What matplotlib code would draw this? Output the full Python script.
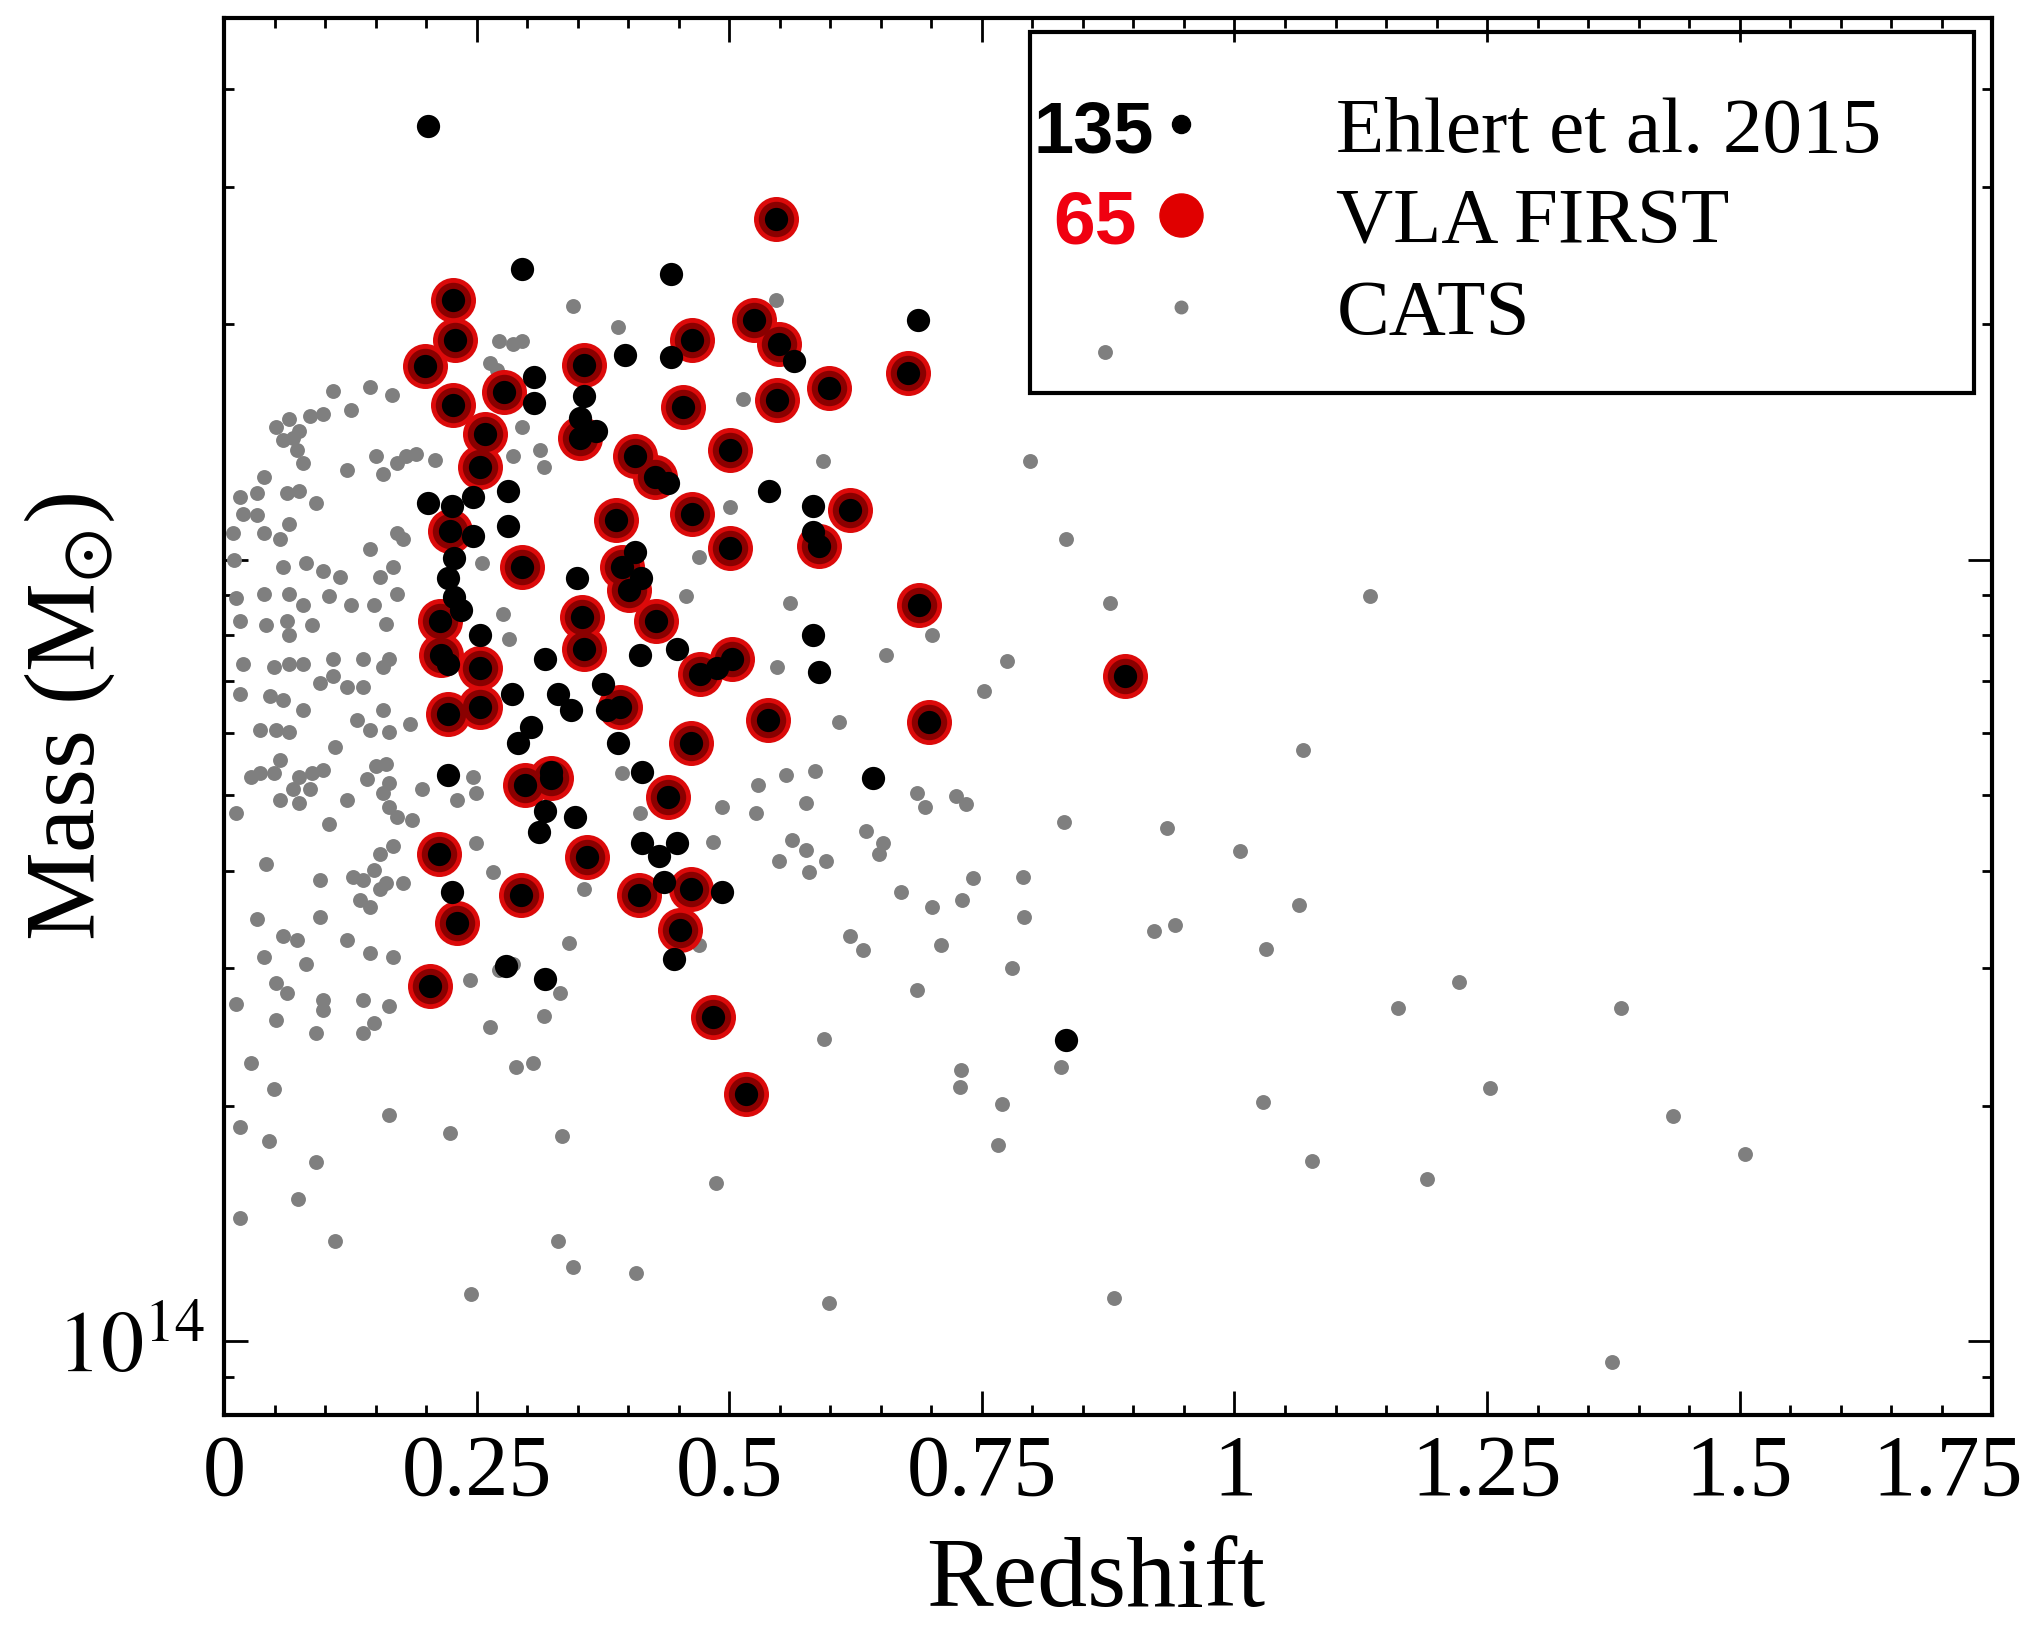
import numpy as np
import matplotlib
matplotlib.use("Agg")
import matplotlib.pyplot as plt
from matplotlib.lines import Line2D
from matplotlib.patches import Rectangle
from matplotlib import ticker, transforms

plt.rcParams['font.family'] = ['Liberation Serif', 'DejaVu Serif']
plt.rcParams['mathtext.fontset'] = 'stix'

# ---- data: redshift and log10(mass / Msun) ----

# VLA FIRST detections (red)
first_z = [0.546, 0.226, 0.228, 0.199, 0.524, 0.549, 0.463, 0.356, 0.277, 0.226,
           0.454, 0.547, 0.599, 0.677, 0.258, 0.352, 0.253, 0.501, 0.407, 0.426,
           0.223, 0.388, 0.463, 0.619, 0.589, 0.501, 0.295, 0.394, 0.401, 0.213,
           0.354, 0.427, 0.688, 0.214, 0.253, 0.356, 0.471, 0.503, 0.392, 0.221,
           0.253, 0.538, 0.698, 0.892, 0.298, 0.323, 0.462, 0.439, 0.212, 0.359,
           0.294, 0.410, 0.462, 0.451, 0.230, 0.204, 0.484, 0.516]
first_logm = [15.435, 15.332, 15.281, 15.248, 15.306, 15.276, 15.281, 15.249, 15.214, 15.198,
              15.195, 15.204, 15.219, 15.239, 15.161, 15.156, 15.118, 15.140, 15.132, 15.105,
              15.037, 15.050, 15.058, 15.063, 15.017, 15.015, 14.991, 14.991, 14.961, 14.922,
              14.927, 14.922, 14.942, 14.878, 14.861, 14.886, 14.853, 14.873, 14.811, 14.803,
              14.811, 14.795, 14.792, 14.851, 14.712, 14.720, 14.765, 14.696, 14.624, 14.619,
              14.571, 14.571, 14.578, 14.526, 14.535, 14.455, 14.415, 14.317]

# Ehlert et al. 2015 clusters without a FIRST source (black)
ehlert_z = [0.202, 0.295, 0.442, 0.687, 0.397, 0.442, 0.564, 0.307, 0.307, 0.352,
            0.368, 0.539, 0.281, 0.246, 0.202, 0.225, 0.281, 0.227, 0.439, 0.583,
            0.583, 0.221, 0.227, 0.349, 0.407, 0.234, 0.253, 0.317, 0.583, 0.589,
            0.411, 0.448, 0.488, 0.285, 0.330, 0.343, 0.304, 0.291, 0.379, 0.390,
            0.413, 0.642, 0.221, 0.323, 0.317, 0.311, 0.413, 0.448, 0.430, 0.225,
            0.493, 0.445, 0.279, 0.317, 0.833, 0.221, 0.435, 0.356, 0.347, 0.246,
            0.375, 0.412]
ehlert_logm = [15.554, 15.372, 15.365, 15.307, 15.262, 15.259, 15.254, 15.233, 15.200, 15.181,
               15.165, 15.088, 15.088, 15.080, 15.072, 15.068, 15.043, 15.002, 15.098, 15.068,
               15.035, 14.977, 14.952, 14.977, 15.010, 14.936, 14.903, 14.873, 14.903, 14.856,
               14.878, 14.886, 14.861, 14.828, 14.828, 14.808, 14.786, 14.766, 14.808, 14.766,
               14.728, 14.720, 14.725, 14.728, 14.679, 14.651, 14.638, 14.638, 14.621, 14.575,
               14.575, 14.489, 14.480, 14.464, 14.386, 14.866, 14.588, 15.209, 14.671, 15.030,
               14.841, 14.976]

# CATS clusters (grey)
cats_z = [
    # upper-left cluster
    0.345, 0.390, 0.286, 0.272, 0.295, 0.263, 0.270, 0.166, 0.144, 0.108,
    0.125, 0.098, 0.085, 0.064, 0.051, 0.074, 0.068, 0.058, 0.072, 0.078,
    0.121, 0.150, 0.157, 0.180, 0.171, 0.190, 0.209, 0.295, 0.286, 0.312,
    0.316, 0.039, 0.032, 0.015, 0.018, 0.032, 0.062, 0.074, 0.091, 0.064,
    0.009, 0.055, 0.039, 0.171, 0.177, 0.144, 0.010, 0.058, 0.081, 0.098,
    0.114, 0.154, 0.167, 0.039, 0.012, 0.064, 0.078, 0.104, 0.125, 0.148,
    0.171, 0.015, 0.041, 0.062, 0.087, 0.160, 0.064, 0.255, 0.276, 0.282,
    # upper middle
    0.546, 0.513, 0.593, 0.798, 0.833, 0.877, 0.501, 0.470, 0.457, 0.560,
    0.701, 0.872,
    # lower-left
    0.018, 0.049, 0.064, 0.078, 0.108, 0.137, 0.157, 0.163, 0.015, 0.045,
    0.058, 0.078, 0.095, 0.108, 0.121, 0.137, 0.157, 0.131, 0.144, 0.163,
    0.184, 0.035, 0.051, 0.064, 0.110, 0.055, 0.035, 0.026, 0.049, 0.074,
    0.087, 0.098, 0.068, 0.055, 0.074, 0.085, 0.121, 0.141, 0.150, 0.160,
    0.163, 0.157, 0.163, 0.171, 0.186, 0.012, 0.104, 0.196, 0.230, 0.246,
    0.249, 0.041, 0.095, 0.127, 0.137, 0.148, 0.154, 0.167, 0.160, 0.177,
    0.134, 0.144, 0.154, 0.249, 0.266, 0.032, 0.095, 0.058, 0.072, 0.121,
    0.144, 0.167, 0.039, 0.081, 0.051, 0.062, 0.012, 0.098, 0.098, 0.137,
    0.163, 0.051, 0.091, 0.137, 0.148, 0.243, 0.341, 0.263, 0.316, 0.289,
    0.306, 0.026, 0.049, 0.332, 0.356, 0.394, 0.411, 0.272, 0.286,
    # bottom-left
    0.015, 0.044, 0.091, 0.073, 0.015, 0.110, 0.163, 0.223, 0.334, 0.330,
    0.345, 0.408, 0.244,
    # middle
    0.547, 0.655, 0.775, 0.752, 0.608, 0.528, 0.556, 0.585, 0.576, 0.526,
    0.493, 0.484, 0.562, 0.576, 0.549, 0.596, 0.579, 0.635, 0.652, 0.648,
    0.686, 0.694, 0.724, 0.734, 0.831, 0.741, 0.730, 0.701, 0.670, 0.791,
    0.792, 0.709, 0.619, 0.632, 0.780, 0.686, 0.470, 0.594, 0.729, 0.728,
    0.828,
    # high redshift tail
    1.134, 1.068, 0.933, 1.005, 1.064, 0.920, 0.941, 1.031, 1.222, 1.162,
    1.383, 1.028, 1.253, 1.434, 1.077, 1.191, 1.505, 0.881, 1.374, 0.487,
    0.599, 0.770, 0.766]
cats_logm = [
    15.324, 15.298, 15.276, 15.280, 15.280, 15.251, 15.243, 15.210, 15.221, 15.215,
    15.191, 15.186, 15.183, 15.180, 15.170, 15.165, 15.155, 15.153, 15.140, 15.124,
    15.115, 15.132, 15.110, 15.132, 15.124, 15.135, 15.127, 15.170, 15.132, 15.140,
    15.119, 15.105, 15.085, 15.080, 15.058, 15.057, 15.085, 15.088, 15.072, 15.046,
    15.034, 15.026, 15.034, 15.034, 15.026, 15.013, 14.999, 14.991, 14.996, 14.986,
    14.978, 14.978, 14.991, 14.956, 14.951, 14.956, 14.942, 14.953, 14.942, 14.942,
    14.956, 14.922, 14.916, 14.922, 14.916, 14.918, 14.903, 14.996, 14.931, 14.899,
    15.332, 15.205, 15.126, 15.126, 15.026, 14.945, 15.067, 15.003, 14.953, 14.945,
    14.903, 15.266,
    14.867, 14.863, 14.866, 14.866, 14.873, 14.873, 14.863, 14.873, 14.828, 14.825,
    14.820, 14.808, 14.842, 14.851, 14.837, 14.837, 14.808, 14.795, 14.782, 14.779,
    14.790, 14.782, 14.782, 14.779, 14.760, 14.744, 14.727, 14.722, 14.727, 14.722,
    14.727, 14.731, 14.706, 14.692, 14.689, 14.706, 14.692, 14.719, 14.736, 14.739,
    14.714, 14.701, 14.684, 14.671, 14.667, 14.676, 14.662, 14.706, 14.692, 14.722,
    14.701, 14.611, 14.590, 14.594, 14.590, 14.603, 14.624, 14.633, 14.586, 14.586,
    14.565, 14.556, 14.578, 14.637, 14.600, 14.540, 14.543, 14.518, 14.513, 14.513,
    14.497, 14.492, 14.492, 14.483, 14.459, 14.445, 14.432, 14.437, 14.424, 14.437,
    14.429, 14.411, 14.394, 14.394, 14.407, 14.462, 14.510, 14.402, 14.416, 14.351,
    14.356, 14.356, 14.323, 14.445, 14.578, 14.727, 14.676, 14.475, 14.483,
    14.274, 14.256, 14.230, 14.182, 14.158, 14.129, 14.289, 14.266, 14.263, 14.129,
    14.095, 14.087, 14.061,
    14.863, 14.878, 14.870, 14.832, 14.792, 14.712, 14.724, 14.729, 14.689, 14.676,
    14.684, 14.639, 14.641, 14.629, 14.614, 14.614, 14.600, 14.653, 14.637, 14.624,
    14.701, 14.684, 14.697, 14.687, 14.664, 14.593, 14.564, 14.555, 14.575, 14.594,
    14.543, 14.507, 14.518, 14.500, 14.477, 14.450, 14.507, 14.387, 14.347, 14.326,
    14.351,
    14.954, 14.757, 14.657, 14.627, 14.558, 14.525, 14.533, 14.502, 14.460, 14.427,
    14.426, 14.306, 14.324, 14.288, 14.231, 14.208, 14.240, 14.056, 13.974, 14.203,
    14.049, 14.304, 14.251]

series_names = ['Ehlert et al. 2015', 'VLA FIRST', 'CATS']
counts = ['135', '65']
xtick_vals = [0, 0.25, 0.5, 0.75, 1, 1.25, 1.5, 1.75]
xtick_labels = ['0', '0.25', '0.5', '0.75', '1', '1.25', '1.5', '1.75']

# ---- plot ----
fig = plt.figure(figsize=(20.34, 16.25), dpi=100)
ax = fig.add_axes([0.1103, 0.1292, 0.8691, 0.8598])

cats_m = 10 ** np.array(cats_logm)
first_m = 10 ** np.array(first_logm)
# every FIRST cluster is also in the Ehlert sample -> black dot on top
all_ehlert_z = np.concatenate([ehlert_z, first_z])
all_ehlert_m = np.concatenate([10 ** np.array(ehlert_logm), first_m])

ax.scatter(cats_z, cats_m, s=115, c='#7f7f7f', lw=0, zorder=2)
ax.scatter(first_z, first_m, s=1050, c='#dc0a0a', lw=0, zorder=3)
ax.scatter(first_z, first_m, s=650, c='#8a0000', lw=0, zorder=3.5)
ax.scatter(all_ehlert_z, all_ehlert_m, s=280, c='k', lw=0, zorder=4)

ax.set_yscale('log')
ax.set_xlim(0, 1.75)
ax.set_ylim(8.05e13, 4.93e15)

ax.set_xticks(xtick_vals)
ax.set_xticklabels(xtick_labels)
ax.xaxis.set_minor_locator(ticker.MultipleLocator(0.05))
ax.set_yticks([1e14, 1e15])
ax.set_yticklabels([r'$10^{14}$', ''])
ax.yaxis.set_minor_locator(ticker.LogLocator(base=10, subs=np.arange(2, 10)))
ax.yaxis.set_minor_formatter(ticker.NullFormatter())

ax.tick_params(which='both', direction='in', top=True, right=True, width=2)
ax.tick_params(which='major', length=17, labelsize=62, pad=14)
ax.tick_params(which='minor', length=7)
for sp in ax.spines.values():
    sp.set_linewidth(3)

# last x label sits a bit left in the original
lab = ax.xaxis.get_major_ticks()[-1].label1
lab.set_transform(lab.get_transform() +
                  transforms.ScaledTranslation(-0.44, 0, fig.dpi_scale_trans))

ax.set_xlabel('Redshift', fontsize=72)
ax.xaxis.set_label_coords(0.493, -0.087)
ax.set_ylabel(r'Mass (M$_{\odot}$)', fontsize=72)
ax.yaxis.set_label_coords(-0.061, 0.5)

# legend box drawn by hand so the rows can sit where the original has them
ax.add_patch(Rectangle((0.4558, 0.7316), 0.534, 0.2584, transform=ax.transAxes,
                       facecolor='white', edgecolor='k', lw=3, zorder=1.5))
handles = [Line2D([], [], ls='none', marker='o', ms=13, color='k'),
           Line2D([], [], ls='none', marker='o', ms=31, color='#e00000'),
           Line2D([], [], ls='none', marker='o', ms=9, color='#7f7f7f')]
leg = ax.legend(handles, series_names, loc='upper left',
                bbox_to_anchor=(0.4558, 0.9752, 0.534, 0), mode='expand',
                borderaxespad=0, fontsize=57, frameon=False, borderpad=0.55,
                labelspacing=0.24, handlelength=2.7, handletextpad=0.62)

ax.text(0.526, 0.9034, counts[0], transform=ax.transAxes, ha='right',
        va='baseline', fontsize=52, fontweight='bold',
        family=['Liberation Sans', 'DejaVu Sans'], color='k', zorder=6)
ax.text(0.5163, 0.8382, counts[1], transform=ax.transAxes, ha='right',
        va='baseline', fontsize=54, fontweight='bold',
        family=['Liberation Sans', 'DejaVu Sans'], color='#f00010', zorder=6)

fig.savefig('out.png', dpi=100)
